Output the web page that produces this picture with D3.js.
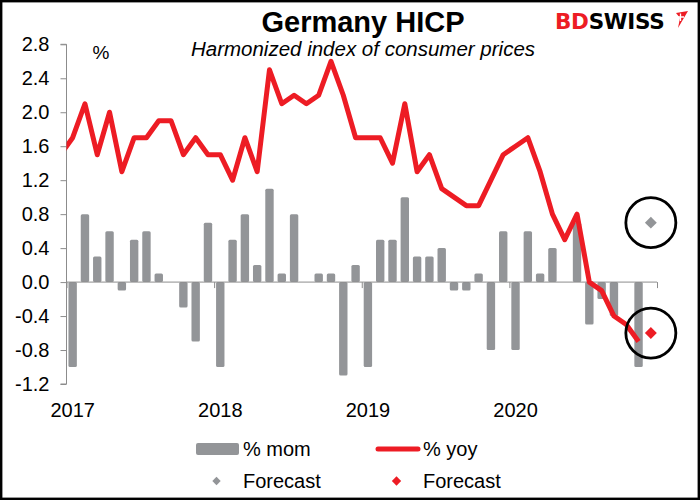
<!DOCTYPE html>
<html>
<head>
<meta charset="utf-8">
<script src="https://cdn.jsdelivr.net/npm/d3@7"></script>
<style>
  body { margin: 0; background: #fff; }
  svg { display: block; font-family: "Liberation Sans", Arial, sans-serif; }
</style>
</head>
<body>
<svg></svg>
<script>
// Germany HICP, monthly Jan 2017 .. Dec 2020
const years = ["2017", "2018", "2019", "2020"];
const months = d3.range(48);

// % mom (bars), last month is the forecast
const mom = [
    -1.0, 0.8, 0.3, 0.6, -0.1, 0.5, 0.6, 0.1, 0.0, -0.3, -0.7, 0.7,
    -1.0, 0.5, 0.8, 0.2, 1.1, 0.1, 0.8, 0.0, 0.1, 0.1, -1.1, 0.2,
    -1.0, 0.5, 0.5, 1.0, 0.3, 0.3, 0.4, -0.1, -0.1, 0.1, -0.8, 0.6,
    -0.8, 0.6, 0.1, 0.4, 0.0, 0.7, -0.5, -0.2, -0.4, 0.0, -1.0, null
];
// % yoy (line)
const yoyPrev = 1.5; // Dec 2016, only the stub at the axis is visible
const yoy = [
    1.7, 2.1, 1.5, 2.0, 1.3, 1.7, 1.7, 1.9, 1.9, 1.5, 1.7, 1.5,
    1.5, 1.2, 1.7, 1.3, 2.5, 2.1, 2.2, 2.1, 2.2, 2.6, 2.2, 1.7,
    1.7, 1.7, 1.4, 2.1, 1.3, 1.5, 1.1, 1.0, 0.9, 0.9, 1.2, 1.5,
    1.6, 1.7, 1.3, 0.8, 0.5, 0.8, 0.0, -0.1, -0.4, -0.5, -0.7, null
];
// forecasts for Dec 2020
const forecastMonth = 47;
const momForecast = 0.7;
const yoyForecast = -0.6;

const yTicks = [-1.2, -0.8, -0.4, 0.0, 0.4, 0.8, 1.2, 1.6, 2.0, 2.4, 2.8];

const width = 700, height = 500;
const grey = "#939598", red = "#ED1C24", axisCol = "#8c8c8c";

const svg = d3.select("svg")
    .attr("width", width)
    .attr("height", height);

// month index -> x (centre of month i at i + 0.5)
const x = d3.scaleLinear().domain([0, 48]).range([66.5, 657]);
const y = d3.scaleLinear().domain([-1.2, 2.8]).range([384, 44.3]);

svg.append("defs").append("clipPath").attr("id", "plot")
    .append("rect")
    .attr("x", x(0)).attr("y", 0)
    .attr("width", x(48) - x(0)).attr("height", height);

//Balken % mom
svg.append("g").attr("class", "bars")
    .selectAll("rect")
    .data(months.filter(i => mom[i] !== null && mom[i] !== 0))
    .enter()
    .append("rect")
    .attr("x", i => x(i + 0.5) - 4.2)
    .attr("width", 8.4)
    .attr("y", i => y(Math.max(0, mom[i])))
    .attr("height", i => Math.abs(y(mom[i]) - y(0)))
    .attr("rx", 1.5)
    .attr("fill", grey);

//Achsen
const yAxis = svg.append("g")
    .attr("transform", `translate(${x(0)},0)`)
    .call(d3.axisLeft(y).tickValues(yTicks).tickSize(6).tickPadding(11)
        .tickFormat(d => d.toFixed(1)));
yAxis.select(".domain").attr("stroke", axisCol).attr("d", `M-6,${y(2.8)}H0V${y(-1.2)}H-6`);
yAxis.selectAll(".tick line").attr("stroke", axisCol);
yAxis.selectAll("text").attr("font-size", 20).attr("fill", "#000")
    .attr("font-family", "Liberation Sans, Arial, sans-serif");

const xAxis = svg.append("g")
    .attr("transform", `translate(0,${y(0)})`)
    .call(d3.axisBottom(x).tickValues([0, 12, 24, 36, 48]).tickSize(6).tickFormat(""));
xAxis.select(".domain").attr("stroke", axisCol).attr("d", `M${x(0)},0H${x(48)}`);
xAxis.selectAll(".tick line").attr("stroke", axisCol);

svg.append("g").attr("class", "yearLabels")
    .selectAll("text")
    .data(years)
    .enter()
    .append("text")
    .attr("x", (d, i) => x(i * 12 + 0.5))
    .attr("y", 416.5)
    .attr("text-anchor", "middle")
    .attr("font-size", 20)
    .text(d => d);

//Linie % yoy
const lineData = [{ i: -1, v: yoyPrev }].concat(
    months.filter(i => yoy[i] !== null).map(i => ({ i: i, v: yoy[i] })));
svg.append("path")
    .datum(lineData)
    .attr("clip-path", "url(#plot)")
    .attr("fill", "none")
    .attr("stroke", red)
    .attr("stroke-width", 5)
    .attr("stroke-linejoin", "round")
    .attr("d", d3.line().x(d => x(d.i + 0.5)).y(d => y(d.v)));

//Prognosen
const diamond = d3.symbol().type(d3.symbolDiamond2);
const fc = [{ v: momForecast, c: grey }, { v: yoyForecast, c: red }];
svg.append("g").selectAll("path")
    .data(fc)
    .enter()
    .append("path")
    .attr("transform", d => `translate(${x(forecastMonth + 0.5)},${y(d.v)})`)
    .attr("d", diamond.size(90)())
    .attr("fill", d => d.c);

svg.append("g").selectAll("circle")
    .data(fc)
    .enter()
    .append("circle")
    .attr("cx", x(forecastMonth + 0.5))
    .attr("cy", d => y(d.v))
    .attr("r", 25)
    .attr("fill", "none")
    .attr("stroke", "#000")
    .attr("stroke-width", 2.8);

//Titel
svg.append("text")
    .attr("x", 363).attr("y", 32)
    .attr("text-anchor", "middle")
    .attr("font-size", 29).attr("font-weight", "bold")
    .text("Germany HICP");
svg.append("text")
    .attr("x", 363).attr("y", 55.5)
    .attr("text-anchor", "middle")
    .attr("font-size", 20.5).attr("font-style", "italic")
    .text("Harmonized index of consumer prices");
svg.append("text")
    .attr("x", 101).attr("y", 59)
    .attr("text-anchor", "middle")
    .attr("font-size", 19)
    .text("%");

//Logo
const logo = svg.append("text")
    .attr("x", 555).attr("y", 28.5)
    .attr("font-family", "DejaVu Sans, sans-serif")
    .attr("font-size", 21.5).attr("font-weight", "bold")
    .attr("letter-spacing", -0.3);
logo.append("tspan").attr("fill", red).text("BD");
logo.append("tspan").attr("fill", "#000").text("SWISS");
svg.append("path")
    .attr("d", "M676,13 L688,11 L678,28 L680,18 Z")
    .attr("fill", red);
svg.append("path")
    .attr("d", "M677,17 H684 M680.5,13.5 V21")
    .attr("stroke", "#fff").attr("stroke-width", 1.3);

//Legende
const legend = svg.append("g").attr("font-size", 20);
legend.append("rect")
    .attr("x", 196).attr("y", 443).attr("width", 43).attr("height", 12)
    .attr("rx", 2).attr("fill", grey);
legend.append("text").attr("x", 243).attr("y", 456).text("% mom");
legend.append("line")
    .attr("x1", 378).attr("x2", 418).attr("y1", 449).attr("y2", 449)
    .attr("stroke", red).attr("stroke-width", 5).attr("stroke-linecap", "round");
legend.append("text").attr("x", 423).attr("y", 456).text("% yoy");
legend.append("path")
    .attr("transform", "translate(216.5,481)")
    .attr("d", diamond.size(45)())
    .attr("fill", grey);
legend.append("text").attr("x", 243).attr("y", 487.5).text("Forecast");
legend.append("path")
    .attr("transform", "translate(396.5,481)")
    .attr("d", diamond.size(55)())
    .attr("fill", red);
legend.append("text").attr("x", 423).attr("y", 487.5).text("Forecast");

//Rahmen
svg.append("rect")
    .attr("x", 1.2).attr("y", 1.2)
    .attr("width", width - 2.4).attr("height", height - 2.4)
    .attr("fill", "none").attr("stroke", "#000").attr("stroke-width", 2.4);
</script>
</body>
</html>
